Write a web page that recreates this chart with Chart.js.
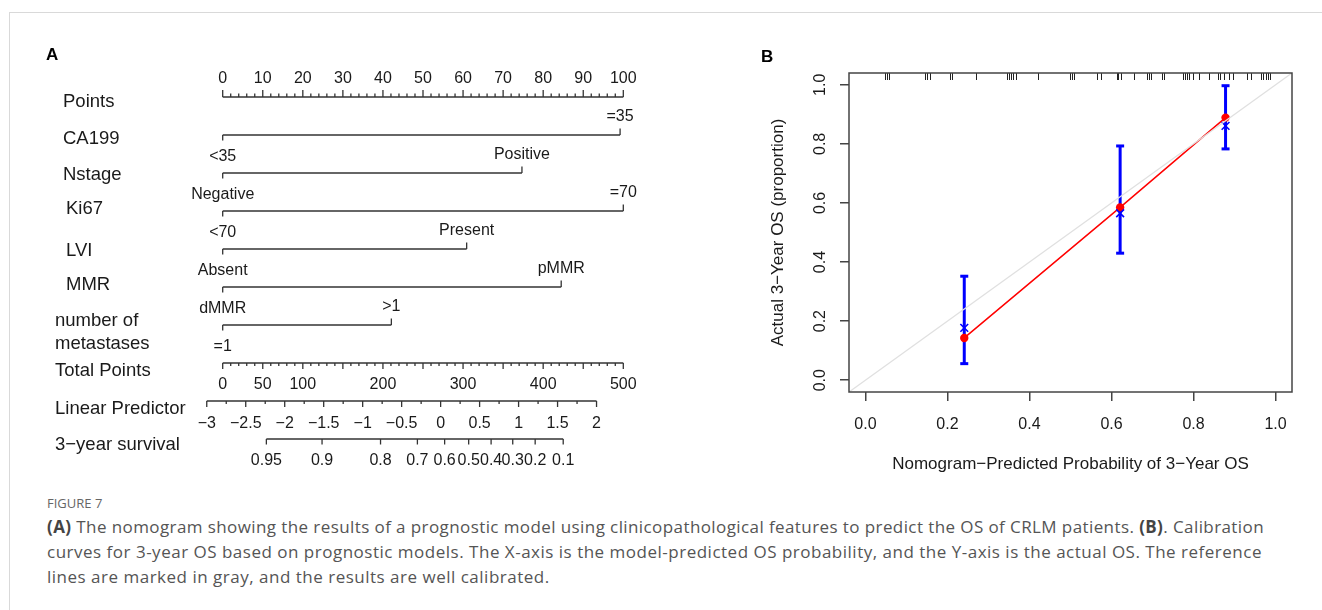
<!DOCTYPE html>
<html><head><meta charset="utf-8">
<script src="https://cdn.jsdelivr.net/npm/chart.js@4.4.1/dist/chart.umd.min.js"></script>
<style>
html,body{margin:0;padding:0;background:#fff;width:1322px;height:610px;overflow:hidden;}
#card{position:absolute;left:9px;top:12px;width:1400px;height:700px;border-left:1px solid #d9d9d9;border-top:1px solid #d9d9d9;}
#cA{position:absolute;left:0;top:0;}
#cB{position:absolute;left:740px;top:30px;}
.panel{position:absolute;font:bold 17px/17px "Liberation Sans",Arial,sans-serif;color:#000;}
#fig{position:absolute;left:47px;top:495px;font:13px/16px "Open Sans",sans-serif;color:#666;}
#cap{position:absolute;left:47px;top:514px;font:17px/25px "Open Sans",sans-serif;color:#555;white-space:nowrap;}
#cap span{display:block;}
#cap b{color:#444;}
</style></head>
<body>
<div id="card"></div>
<canvas id="cA" width="730" height="480"></canvas>
<canvas id="cB" width="580" height="460"></canvas>
<div class="panel" style="left:46px;top:46px">A</div>
<div class="panel" style="left:761px;top:48px">B</div>
<div id="fig">FIGURE 7</div>
<div id="cap"><span><b>(A)</b> The nomogram showing the results of a prognostic model using clinicopathological features to predict the OS of CRLM patients. <b>(B)</b>. Calibration</span><span>curves for 3-year OS based on prognostic models. The X-axis is the model-predicted OS probability, and the Y-axis is the actual OS. The reference</span><span>lines are marked in gray, and the results are well calibrated.</span></div>
<script>
// ===== Panel A (nomogram) data =====
const rowNames = ['Points','CA199','Nstage','Ki67','LVI','MMR',['number of','metastases'],'Total Points','Linear Predictor','3\u2212year survival'];
const lowLevelLabels = ['<35','Negative','<70','Absent','dMMR','=1'];
const highLevelLabels = ['=35','Positive','=70','Present','pMMR','>1'];
const highLevelPoints = [99.2, 74.7, 100, 60.9, 84.5, 42.1];
const pointsTickLabels = [0,10,20,30,40,50,60,70,80,90,100];
const totalPointsTickLabels = [0,50,100,200,300,400,500];
const totalPointsMax = 500;
const lpTickValues = [-3,-2.5,-2,-1.5,-1,-0.5,0,0.5,1,1.5,2];
const lpTotalPointsAtZero = 272;
const lpTotalPointsPerUnit = 97.3;
const survivalTickLabels = ['0.95','0.9','0.8','0.7','0.6','0.5','0.4','0.3','0.2','0.1'];
const survivalTotalPoints = [54.5,124,197,243,277,307,335,362,390,425];

// ===== Panel B (calibration) data =====
const calPredicted = [0.241, 0.621, 0.878];
const calObserved  = [0.143, 0.585, 0.889];
const calCorrected = [0.177, 0.565, 0.861];
const calLower     = [0.056, 0.430, 0.783];
const calUpper     = [0.352, 0.793, 0.997];
const calAxisTicks = [0, 0.2, 0.4, 0.6, 0.8, 1.0];
const calAxisRange = [-0.04, 1.04];
const rugValues = [0.047,0.052,0.057,0.145,0.150,0.157,0.207,0.210,0.270,0.344,0.346,0.349,0.355,0.360,0.367,0.420,
  0.499,0.504,0.509,0.565,0.575,0.614,0.617,0.622,0.654,0.687,0.692,0.696,0.723,0.728,0.774,0.779,0.784,0.789,0.799,
  0.814,0.838,0.860,0.864,0.874,0.886,0.896,0.930,0.940,0.964,0.969,0.976,0.981,0.986];

// ===== helpers / layout (not data) =====
const totalToPoints = t => t * 100 / totalPointsMax;
const lpToTotal = lp => lpTotalPointsAtZero + lpTotalPointsPerUnit * lp;
const fmtMinus = v => (v < 0 ? '\u2212' : '') + String(Math.abs(v));
const rowLabelX = [63,63,63,66,66,66,55,55,55,55];
const rowLabelDY = [4.5,3.5,1.5,-2,1.5,-2.5,[-4.5,18.5],8,7.5,5.5];
const TXT = 1.5; // text baseline nudge
const AXIS_COLOR = '#333';
const FONT = '"Liberation Sans", Arial, sans-serif';

function seg(x0, x1, y) { return [{x:x0, y:y}, {x:x1, y:y}]; }
const lineDs = (data) => ({data, showLine:true, borderColor:AXIS_COLOR, borderWidth:1.4, pointRadius:0, clip:false});

const nomoDatasets = [
  lineDs(seg(0, pointsTickLabels[pointsTickLabels.length-1], 0)),
  ...highLevelPoints.map((p, i) => lineDs(seg(0, p, i + 1))),
  lineDs(seg(0, totalToPoints(totalPointsMax), 7)),
  lineDs(seg(totalToPoints(lpToTotal(lpTickValues[0])), totalToPoints(lpToTotal(lpTickValues[lpTickValues.length-1])), 8)),
  lineDs(seg(totalToPoints(survivalTotalPoints[0]), totalToPoints(survivalTotalPoints[survivalTotalPoints.length-1]), 9))
];

const nomoPlugin = {
  id: 'nomo',
  afterDatasetsDraw(chart) {
    const ctx = chart.ctx, xs = chart.scales.x, ys = chart.scales.y;
    const X = v => xs.getPixelForValue(v), Y = r => ys.getPixelForValue(r);
    ctx.save();
    ctx.strokeStyle = AXIS_COLOR; ctx.lineWidth = 1.3; ctx.fillStyle = '#1a1a1a';
    const tick = (x, y, len) => { ctx.beginPath(); ctx.moveTo(x, y); ctx.lineTo(x, y + len); ctx.stroke(); };
    ctx.textAlign = 'center'; ctx.textBaseline = 'middle';
    ctx.font = '16px ' + FONT;
    // Points axis
    for (let v = 0; v <= 100; v += 2) tick(X(v), Y(0), v % 10 === 0 ? -7 : -3.5);
    pointsTickLabels.forEach(v => ctx.fillText(String(v), X(v), Y(0) - 19.5 + TXT));
    // variables
    highLevelPoints.forEach((p, i) => {
      const r = i + 1;
      tick(X(0), Y(r), 5.5);
      tick(X(p), Y(r), -6.5);
      ctx.fillText(lowLevelLabels[i], X(0), Y(r) + 20.2 + TXT);
      ctx.fillText(highLevelLabels[i], X(p), Y(r) - 20 + TXT);
    });
    // Total points
    for (let t = 0; t <= totalPointsMax; t += 10) tick(X(totalToPoints(t)), Y(7), t % 50 === 0 ? 6 : 3);
    totalPointsTickLabels.forEach(t => ctx.fillText(String(t), X(totalToPoints(t)), Y(7) + 19.7 + TXT));
    // Linear predictor
    const lpMin = lpTickValues[0], lpMax = lpTickValues[lpTickValues.length-1];
    for (let k = 0; lpMin + k * 0.25 <= lpMax + 1e-9; k++) tick(X(totalToPoints(lpToTotal(lpMin + k * 0.25))), Y(8), k % 2 === 0 ? 6 : 3);
    lpTickValues.forEach(v => ctx.fillText(fmtMinus(v), X(totalToPoints(lpToTotal(v))), Y(8) + 21 + TXT));
    // survival
    survivalTotalPoints.forEach((t, i) => {
      tick(X(totalToPoints(t)), Y(9), 5.5);
      ctx.fillText(survivalTickLabels[i], X(totalToPoints(t)), Y(9) + 20.2 + TXT);
    });
    // row labels
    ctx.textAlign = 'left';
    ctx.font = '18.5px ' + FONT;
    rowNames.forEach((name, r) => {
      if (Array.isArray(name)) {
        name.forEach((n, j) => ctx.fillText(n, rowLabelX[r], Y(r) + rowLabelDY[r][j]));
      } else {
        ctx.fillText(name, rowLabelX[r], Y(r) + rowLabelDY[r]);
      }
    });
    ctx.restore();
  }
};

new Chart(document.getElementById('cA'), {
  type: 'scatter',
  data: { datasets: nomoDatasets },
  options: {
    responsive: false, animation: false, devicePixelRatio: 1,
    layout: { padding: { left: 222.7, right: 730 - 623.3, top: 59, bottom: 3 } },
    plugins: { legend: { display: false }, tooltip: { enabled: false } },
    scales: {
      x: { type: 'linear', min: 0, max: 100, display: false },
      y: { type: 'linear', min: -1, max: 10, reverse: true, display: false }
    }
  },
  plugins: [nomoPlugin]
});

// ===== Panel B =====
const boxRugPlugin = {
  id: 'boxRug',
  afterDatasetsDraw(chart) {
    const {ctx, chartArea: a} = chart; const xs = chart.scales.x;
    ctx.save();
    ctx.strokeStyle = '#222'; ctx.lineWidth = 1;
    rugValues.forEach(v => { const x = Math.round(xs.getPixelForValue(v)) + 0.5; ctx.beginPath(); ctx.moveTo(x, a.top); ctx.lineTo(x, a.top + 7); ctx.stroke(); });
    ctx.strokeStyle = '#444'; ctx.lineWidth = 1.5;
    ctx.strokeRect(a.left, a.top, a.right - a.left, a.bottom - a.top);
    ctx.restore();
  }
};

const BLUE = '#0000ff', RED = '#ff0000';
const calDatasets = [
  { label:'ideal', data: calAxisRange.map(v => ({x:v, y:v})), showLine:true, borderColor:'#e0e0e0', borderWidth:1.3, pointRadius:0, order:0 },
  { label:'corrected', data: calPredicted.map((x, i) => ({x, y: calCorrected[i]})), showLine:false, pointStyle:'crossRot', pointRadius:5.5, borderColor:BLUE, backgroundColor:BLUE, pointBorderWidth:1.6, order:1 },
  { label:'observed pts', data: calPredicted.map((x, i) => ({x, y: calObserved[i]})), showLine:false, pointStyle:'circle', pointRadius:4.2, borderColor:RED, backgroundColor:RED, pointBorderWidth:0, order:2 },
  { label:'observed', data: calPredicted.map((x, i) => ({x, y: calObserved[i]})), showLine:true, borderColor:RED, borderWidth:1.5, pointRadius:0, order:3 },
  ...calPredicted.map((x, i) => ({ label:'ci' + i, data: [{x, y: calLower[i]}, {x, y: calUpper[i]}], showLine:true, borderColor:BLUE, borderWidth:3,
      pointStyle:'line', pointRadius:4, pointBorderWidth:3, pointBorderColor:BLUE, order:4 }))
];

new Chart(document.getElementById('cB'), {
  type: 'scatter',
  data: { datasets: calDatasets },
  options: {
    responsive: false, animation: false, devicePixelRatio: 1,
    layout: { padding: { left: 0, right: 28, top: 43, bottom: 0 } },
    plugins: { legend: { display: false }, tooltip: { enabled: false } },
    scales: {
      x: {
        type: 'linear', min: calAxisRange[0], max: calAxisRange[1],
        afterBuildTicks: s => { s.ticks = calAxisTicks.map(v => ({value: v})); },
        afterFit: s => { s.height = 98; },
        grid: { drawOnChartArea: false, tickLength: 9, color: '#444', lineWidth: 1.5 },
        border: { display: false },
        ticks: { callback: v => Number(v).toFixed(1), font: { family: FONT, size: 16 }, color: '#1a1a1a', padding: 14, maxRotation: 0, autoSkip: false },
        title: { display: true, text: 'Nomogram\u2212Predicted Probability of 3\u2212Year OS', font: { family: FONT, size: 17 }, color: '#1a1a1a', padding: { top: 0, bottom: 15 } }
      },
      y: {
        type: 'linear', min: calAxisRange[0], max: calAxisRange[1],
        afterBuildTicks: s => { s.ticks = calAxisTicks.map(v => ({value: v})); },
        afterFit: s => { s.width = 109; },
        grid: { drawOnChartArea: false, tickLength: 9, color: '#444', lineWidth: 1.5 },
        border: { display: false },
        ticks: { callback: v => Number(v).toFixed(1), font: { family: FONT, size: 16 }, color: '#1a1a1a', padding: 8, minRotation: 90, maxRotation: 90, crossAlign: 'center', autoSkip: false },
        title: { display: true, text: 'Actual 3\u2212Year OS (proportion)', font: { family: FONT, size: 17 }, color: '#1a1a1a', padding: { top: 28, bottom: 0 } }
      }
    }
  },
  plugins: [boxRugPlugin]
});

// fit the two full caption lines to the reference line widths; last line uses same spacing
(function fitCaption(){
  const targets = [1217, 1215];
  const spans = document.querySelectorAll('#cap span');
  let last = 0;
  spans.forEach((s, i) => {
    s.style.display = 'inline-block';
    const w = s.getBoundingClientRect().width;
    const n = s.textContent.length;
    const ls = targets[i] !== undefined ? (targets[i] - w) / n : last;
    s.style.letterSpacing = ls + 'px';
    s.style.display = 'block';
    last = ls;
  });
})();
</script>
</body></html>
